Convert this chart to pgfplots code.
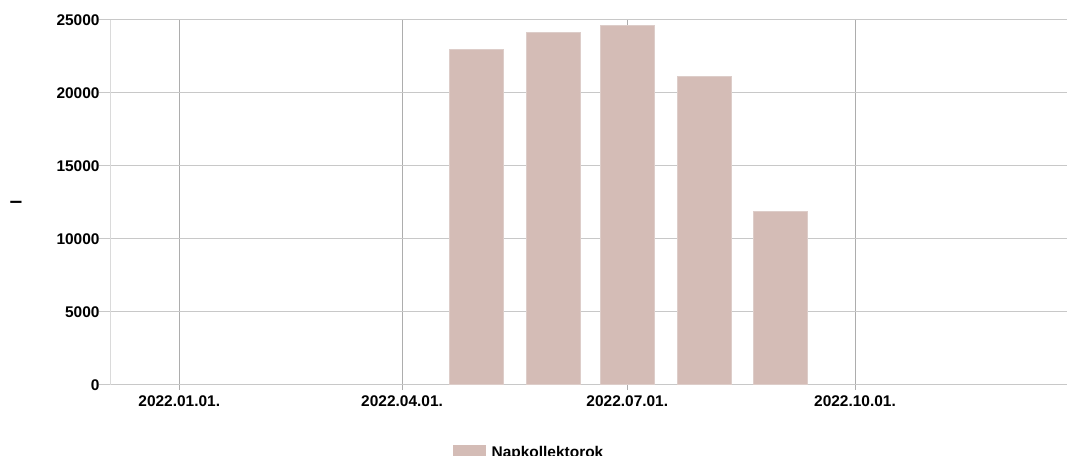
\documentclass[border=0pt]{standalone}
\usepackage{pgfplots}
\pgfplotsset{compat=1.18}
\usepackage{fontspec}
\setmainfont{Liberation Sans}
\definecolor{barc}{HTML}{D4BCB6}
\definecolor{bare}{HTML}{DDCDC9}
\definecolor{gridh}{HTML}{C8C8C8}
\definecolor{gridv}{HTML}{ADADAD}
\definecolor{axl}{HTML}{DADADA}
\begin{document}
\fontsize{11.6pt}{13pt}\selectfont\bfseries
\begin{tikzpicture}
\path[use as bounding box] (0,0) rectangle (800.25pt,342pt);
\begin{axis}[
  at={(82.5pt,53.25pt)}, anchor=south west,
  width=717.75pt, height=273.75pt, scale only axis,
  xmin=-28.0, xmax=358.65, ymin=0, ymax=25000,
  scaled y ticks=false,
  axis lines=left,
  axis line style={-},
  x axis line style={draw=gridh, line width=0.75pt},
  y axis line style={draw=axl, line width=0.75pt},
  xtick={0,90,181,273},
  xticklabels={2022.01.01.,2022.04.01.,2022.07.01.,2022.10.01.},
  ytick={0,5000,10000,15000,20000,25000},
  yticklabels={0,5000,10000,15000,20000,25000},
  tick align=outside,
  xtick style={draw=gridv, line width=0.75pt, /pgfplots/major tick length=3.75pt},
  ytick style={draw=gridh, line width=0.75pt, /pgfplots/major tick length=8.25pt},
  xmajorgrids, ymajorgrids,
  x grid style={draw=gridv, line width=0.75pt},
  y grid style={draw=gridh, line width=0.75pt},
  tick label style={font=\fontsize{11.6pt}{13pt}\selectfont\bfseries, text=black},
  yticklabel style={xshift=0.5pt},
  ylabel={l},
  ylabel style={at={(axis description cs:-0.0982,0.5)}, anchor=center, rotate=0, font=\fontsize{11.6pt}{13pt}\selectfont\bfseries},
  legend style={draw=none, fill=none, at={(0.3584,-0.186)}, anchor=west, inner sep=0pt,
    font=\fontsize{11.6pt}{13pt}\selectfont\bfseries},
  legend image code/.code={\fill[barc] (0pt,-5.25pt) rectangle (24pt,5.25pt);},
  clip=false,
]
\addplot[ybar, bar width=40.5pt, bar shift=0pt, fill=barc, draw=bare, line width=0.75pt]
  coordinates {(120,23000) (151,24150) (181,24650) (212,21150) (243,11900)};
\addlegendentry{\hspace{2pt}Napkollektorok}
\end{axis}
\end{tikzpicture}
\end{document}
